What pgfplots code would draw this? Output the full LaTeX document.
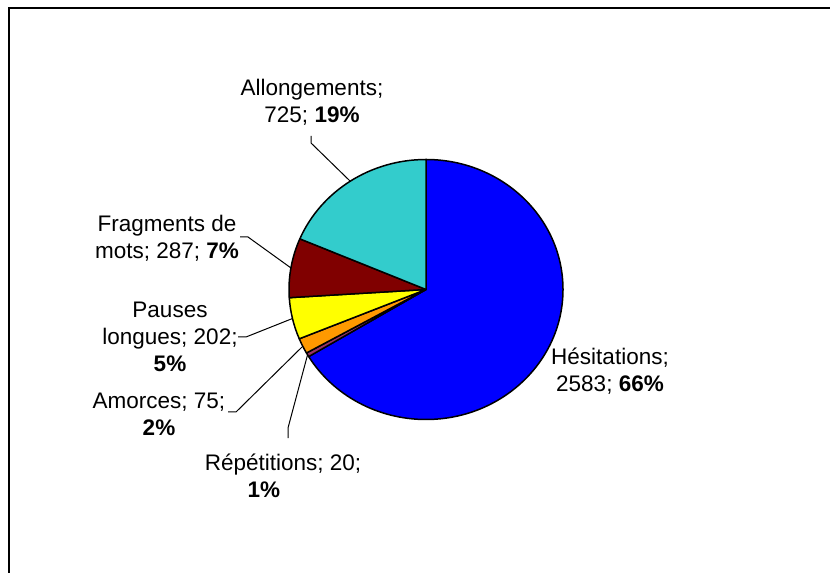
\documentclass[border=0pt]{standalone}
\usepackage{pgfplots}
\usepackage{pgfplotstable}
\usepackage{fontspec}
\setmainfont{Liberation Sans}
\pgfplotsset{compat=1.18}

\definecolor{sliceA}{RGB}{0,0,255}     % Hésitations
\definecolor{sliceB}{RGB}{153,51,102}  % Répétitions
\definecolor{sliceC}{RGB}{255,153,0}   % Amorces
\definecolor{sliceD}{RGB}{255,255,0}   % Pauses longues
\definecolor{sliceE}{RGB}{128,0,0}     % Fragments de mots
\definecolor{sliceF}{RGB}{51,204,204}  % Allongements

\tikzset{lbl/.style={align=center, text=black, font=\fontsize{13.5pt}{16.2pt}\selectfont}}

\pgfplotstableread{
idx value col
0 2583 sliceA
1 20   sliceB
2 75   sliceC
3 202  sliceD
4 287  sliceE
5 725  sliceF
}\piedata

\begin{document}
\begin{tikzpicture}
\begin{axis}[
    x=0.6pt, y=0.6pt,
    xmin=0, xmax=830, ymin=0, ymax=572,
    hide axis, clip=false,
]
\coordinate (LL) at (axis cs:0,0);
\coordinate (UR) at (axis cs:830,572);

% frame (only left and top edges fall inside the picture)
\draw[line width=1.3pt] (axis cs:9,-10) -- (axis cs:9,564) -- (axis cs:840,564);

% pie: start at 12 o'clock, clockwise
\def\cx{426}\def\cy{282.5}
\def\total{0}
\pgfplotsforeachungrouped \i in {0,...,5}{
  \pgfplotstablegetelem{\i}{value}\of\piedata
  \pgfmathsetmacro{\total}{\total+\pgfplotsretval}
}
\def\cum{0}
\pgfplotsforeachungrouped \i in {0,...,5}{
  \pgfplotstablegetelem{\i}{value}\of\piedata
  \let\val\pgfplotsretval
  \pgfplotstablegetelem{\i}{col}\of\piedata
  \let\col\pgfplotsretval
  \pgfmathsetmacro{\a}{90-\cum/\total*360}
  \pgfmathsetmacro{\cum}{\cum+\val}
  \pgfmathsetmacro{\b}{90-\cum/\total*360}
  \pgfmathsetmacro{\px}{\cx+137*cos(\a)}
  \pgfmathsetmacro{\py}{\cy+130*sin(\a)}
  \edef\temp{\noexpand\filldraw[fill=\col, draw=black, line width=0.9pt, line join=round]
    (axis cs:\cx,\cy) -- (axis cs:\px,\py)
    arc[start angle=\a, end angle=\b, x radius=82.2pt, y radius=78pt] -- cycle;}
  \temp
}

% leader lines
\draw[line width=0.6pt] (axis cs:311,436) -- (axis cs:311,429) -- (axis cs:350,391);
\draw[line width=0.6pt] (axis cs:240,335) -- (axis cs:248,335) -- (axis cs:291,304);
\draw[line width=0.6pt] (axis cs:238,235) -- (axis cs:246,235) -- (axis cs:292.5,253.5);
\draw[line width=0.6pt] (axis cs:228,160) -- (axis cs:236,160) -- (axis cs:302,225);
\draw[line width=0.6pt] (axis cs:288,134) -- (axis cs:288,144) -- (axis cs:307.5,217);

% labels
\node[lbl] at (axis cs:312,469.5) {Allongements;\\725; \textbf{19\%}};
\node[lbl] at (axis cs:167,333.5) {Fragments de\\mots; 287; \textbf{7\%}};
\node[lbl] at (axis cs:170,235) {Pauses\\longues; 202;\\\textbf{5\%}};
\node[lbl] at (axis cs:159,158) {Amorces; 75;\\\textbf{2\%}};
\node[lbl] at (axis cs:283,96.5) {Répétitions; 20;\\\textbf{1\%}\hspace*{23pt}};
\node[lbl] at (axis cs:610,201) {Hésitations;\\2583; \textbf{66\%}};
\end{axis}
\pgfresetboundingbox
\useasboundingbox (LL) rectangle (UR);
\end{tikzpicture}
\end{document}
